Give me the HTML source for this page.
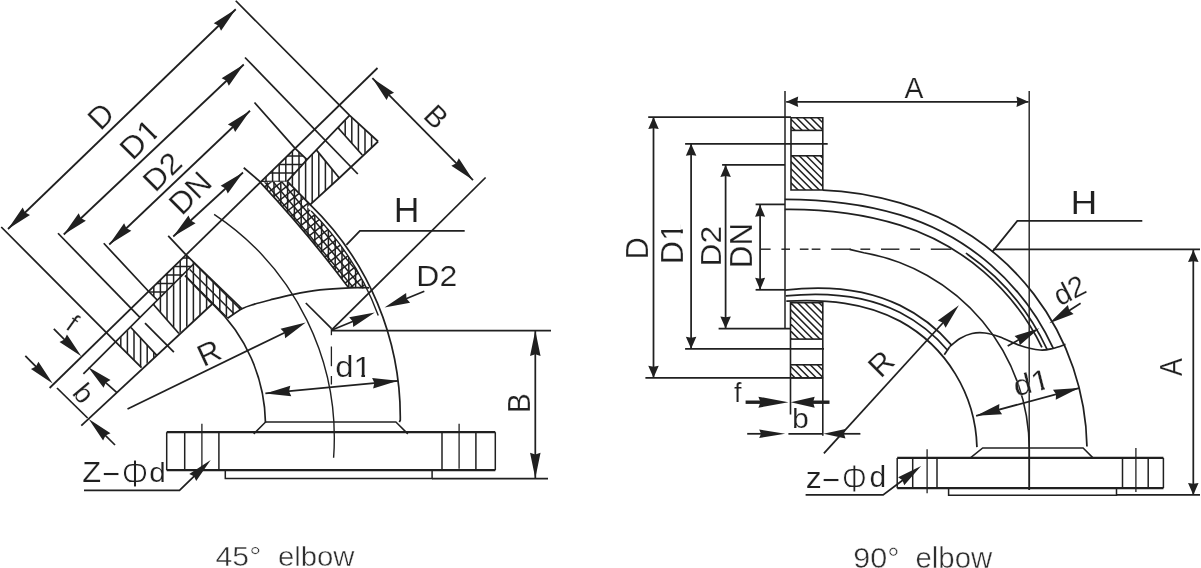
<!DOCTYPE html>
<html><head><meta charset="utf-8"><title>elbow</title>
<style>
html,body{margin:0;padding:0;background:#fff;}
svg{display:block;}
text{font-family:"Liberation Sans",sans-serif;}
svg{filter:grayscale(1);}
</style></head>
<body>
<svg width="1201" height="568" viewBox="0 0 1201 568">
<rect width="1201" height="568" fill="#fff"/>
<g stroke="#231f20" fill="none" stroke-linecap="butt">
<polygon points="8.00,229.00 22.71,207.52 25.07,212.53 30.00,215.07" fill="#231f20" stroke="none"/>
<polygon points="235.75,9.25 221.04,30.73 218.68,25.72 213.75,23.18" fill="#231f20" stroke="none"/>
<line x1="8.00" y1="229.00" x2="235.75" y2="9.25" stroke-width="1.75" />
<polygon points="63.75,234.50 78.68,213.17 80.99,218.22 85.89,220.81" fill="#231f20" stroke="none"/>
<polygon points="243.75,64.50 228.82,85.83 226.51,80.78 221.61,78.19" fill="#231f20" stroke="none"/>
<line x1="63.75" y1="234.50" x2="243.75" y2="64.50" stroke-width="1.75" />
<polygon points="109.25,244.50 124.12,223.13 126.44,228.16 131.35,230.74" fill="#231f20" stroke="none"/>
<polygon points="250.00,110.75 235.13,132.12 232.81,127.09 227.90,124.51" fill="#231f20" stroke="none"/>
<line x1="109.25" y1="244.50" x2="250.00" y2="110.75" stroke-width="1.75" />
<polygon points="173.25,236.50 188.49,215.39 190.72,220.47 195.59,223.13" fill="#231f20" stroke="none"/>
<polygon points="243.00,172.50 227.76,193.61 225.53,188.53 220.66,185.87" fill="#231f20" stroke="none"/>
<line x1="173.25" y1="236.50" x2="243.00" y2="172.50" stroke-width="1.75" />
<path d="M1.25,227.00 L116.10,342.30 L141.50,367.60" stroke-width="1.75" fill="none" />
<path d="M235.75,0.75 L349.60,115.40 L378.10,141.50" stroke-width="1.75" fill="none" />
<line x1="58.00" y1="233.25" x2="140.10" y2="317.60" stroke-width="1.75" />
<line x1="145.00" y1="323.20" x2="173.90" y2="352.10" stroke-width="1.75" />
<line x1="245.00" y1="57.50" x2="357.80" y2="174.00" stroke-width="1.75" />
<path d="M103.75,243.25 L148.70,291.50 L157.20,300.00" stroke-width="1.75" fill="none" />
<path d="M254.50,102.50 L295.10,148.30 L307.00,159.60" stroke-width="1.75" fill="none" />
<line x1="168.20" y1="235.90" x2="185.80" y2="254.60" stroke-width="1.75" />
<line x1="243.75" y1="167.75" x2="260.60" y2="182.10" stroke-width="1.75" />
<line x1="49.60" y1="388.00" x2="377.50" y2="68.00" stroke-width="1.75" />
<line x1="83.40" y1="373.90" x2="194.10" y2="263.50" stroke-width="1.75" />
<path d="M287.30,181.40 L307.00,159.60 L349.60,115.40" stroke-width="1.75" fill="none" />
<line x1="81.30" y1="425.60" x2="212.20" y2="304.00" stroke-width="1.75" />
<path d="M310.20,204.60 L339.30,178.00 L378.10,141.50" stroke-width="1.75" fill="none" />
<line x1="130.90" y1="327.50" x2="157.00" y2="355.60" stroke-width="1.75" />
<line x1="153.00" y1="304.00" x2="178.90" y2="333.50" stroke-width="1.75" />
<line x1="338.20" y1="128.00" x2="362.30" y2="155.00" stroke-width="1.75" />
<line x1="316.30" y1="149.90" x2="339.30" y2="178.00" stroke-width="1.75" />
<clipPath id="hl1"><path d="M116.10,342.30 L130.90,327.50 L157.00,355.60 L141.50,367.60 Z"/></clipPath>
<g clip-path="url(#hl1)" stroke-width="1.5"><line x1="114.20" y1="325.50" x2="114.20" y2="369.60"/><line x1="120.80" y1="325.50" x2="120.80" y2="369.60"/><line x1="127.40" y1="325.50" x2="127.40" y2="369.60"/><line x1="134.00" y1="325.50" x2="134.00" y2="369.60"/><line x1="140.60" y1="325.50" x2="140.60" y2="369.60"/><line x1="147.20" y1="325.50" x2="147.20" y2="369.60"/><line x1="153.80" y1="325.50" x2="153.80" y2="369.60"/><line x1="160.40" y1="325.50" x2="160.40" y2="369.60"/></g>
<clipPath id="hl2"><path d="M153.00,304.00 L185.00,275.60 L212.20,304.00 L178.90,333.50 Z"/></clipPath>
<g clip-path="url(#hl2)" stroke-width="1.5"><line x1="153.80" y1="273.60" x2="153.80" y2="335.50"/><line x1="160.40" y1="273.60" x2="160.40" y2="335.50"/><line x1="167.00" y1="273.60" x2="167.00" y2="335.50"/><line x1="173.60" y1="273.60" x2="173.60" y2="335.50"/><line x1="180.20" y1="273.60" x2="180.20" y2="335.50"/><line x1="186.80" y1="273.60" x2="186.80" y2="335.50"/><line x1="193.40" y1="273.60" x2="193.40" y2="335.50"/><line x1="200.00" y1="273.60" x2="200.00" y2="335.50"/><line x1="206.60" y1="273.60" x2="206.60" y2="335.50"/><line x1="213.20" y1="273.60" x2="213.20" y2="335.50"/></g>
<clipPath id="hl3"><path d="M287.30,181.40 L307.00,159.60 L316.30,149.90 L339.30,178.00 L310.20,204.60 Z"/></clipPath>
<g clip-path="url(#hl3)" stroke-width="1.5"><line x1="285.80" y1="147.90" x2="285.80" y2="206.60"/><line x1="292.40" y1="147.90" x2="292.40" y2="206.60"/><line x1="299.00" y1="147.90" x2="299.00" y2="206.60"/><line x1="305.60" y1="147.90" x2="305.60" y2="206.60"/><line x1="312.20" y1="147.90" x2="312.20" y2="206.60"/><line x1="318.80" y1="147.90" x2="318.80" y2="206.60"/><line x1="325.40" y1="147.90" x2="325.40" y2="206.60"/><line x1="332.00" y1="147.90" x2="332.00" y2="206.60"/><line x1="338.60" y1="147.90" x2="338.60" y2="206.60"/><line x1="345.20" y1="147.90" x2="345.20" y2="206.60"/></g>
<clipPath id="hl4"><path d="M338.20,128.00 L349.60,115.40 L378.10,141.50 L362.30,155.00 Z"/></clipPath>
<g clip-path="url(#hl4)" stroke-width="1.5"><line x1="338.60" y1="113.40" x2="338.60" y2="157.00"/><line x1="345.20" y1="113.40" x2="345.20" y2="157.00"/><line x1="351.80" y1="113.40" x2="351.80" y2="157.00"/><line x1="358.40" y1="113.40" x2="358.40" y2="157.00"/><line x1="365.00" y1="113.40" x2="365.00" y2="157.00"/><line x1="371.60" y1="113.40" x2="371.60" y2="157.00"/><line x1="378.20" y1="113.40" x2="378.20" y2="157.00"/></g>
<clipPath id="cl1"><path d="M148.70,291.50 L185.80,254.60 L242.00,308.80 L227.70,318.30 L212.60,304.40 L185.00,275.60 L157.20,300.00 Z"/></clipPath>
<g clip-path="url(#cl1)" stroke-width="1.5"><line x1="147.20" y1="252.60" x2="147.20" y2="320.30"/><line x1="153.80" y1="252.60" x2="153.80" y2="320.30"/><line x1="160.40" y1="252.60" x2="160.40" y2="320.30"/><line x1="167.00" y1="252.60" x2="167.00" y2="320.30"/><line x1="173.60" y1="252.60" x2="173.60" y2="320.30"/><line x1="180.20" y1="252.60" x2="180.20" y2="320.30"/><line x1="186.80" y1="252.60" x2="186.80" y2="320.30"/><line x1="193.40" y1="252.60" x2="193.40" y2="320.30"/><line x1="200.00" y1="252.60" x2="200.00" y2="320.30"/><line x1="206.60" y1="252.60" x2="206.60" y2="320.30"/><line x1="213.20" y1="252.60" x2="213.20" y2="320.30"/><line x1="219.80" y1="252.60" x2="219.80" y2="320.30"/><line x1="226.40" y1="252.60" x2="226.40" y2="320.30"/><line x1="233.00" y1="252.60" x2="233.00" y2="320.30"/><line x1="239.60" y1="252.60" x2="239.60" y2="320.30"/><line x1="246.20" y1="252.60" x2="246.20" y2="320.30"/></g>
<clipPath id="cl2"><path d="M148.70,291.50 L185.80,254.60 L194.10,263.50 L157.20,300.00 Z"/></clipPath>
<g clip-path="url(#cl2)" stroke-width="1.5"><line x1="146.70" y1="249.50" x2="196.10" y2="249.50"/><line x1="146.70" y1="258.00" x2="196.10" y2="258.00"/><line x1="146.70" y1="266.50" x2="196.10" y2="266.50"/><line x1="146.70" y1="275.00" x2="196.10" y2="275.00"/><line x1="146.70" y1="283.50" x2="196.10" y2="283.50"/><line x1="146.70" y1="292.00" x2="196.10" y2="292.00"/><line x1="146.70" y1="300.50" x2="196.10" y2="300.50"/></g>
<clipPath id="cl3"><path d="M185.80,254.60 L242.00,308.80 L227.70,318.30 L212.60,304.40 L185.00,275.60 L194.10,263.50 Z"/></clipPath>
<g clip-path="url(#cl3)" stroke-width="1.5"><line x1="225.41" y1="208.44" x2="291.51" y2="274.54"/><line x1="220.04" y1="213.81" x2="286.14" y2="279.91"/><line x1="214.66" y1="219.19" x2="280.76" y2="285.29"/><line x1="209.29" y1="224.56" x2="275.39" y2="290.66"/><line x1="203.91" y1="229.94" x2="270.01" y2="296.04"/><line x1="198.54" y1="235.31" x2="264.64" y2="301.41"/><line x1="193.17" y1="240.68" x2="259.27" y2="306.78"/><line x1="187.79" y1="246.06" x2="253.89" y2="312.16"/><line x1="182.42" y1="251.43" x2="248.52" y2="317.53"/><line x1="177.04" y1="256.81" x2="243.14" y2="322.91"/><line x1="171.67" y1="262.18" x2="237.77" y2="328.28"/><line x1="166.30" y1="267.55" x2="232.40" y2="333.65"/><line x1="160.92" y1="272.93" x2="227.02" y2="339.03"/><line x1="155.55" y1="278.30" x2="221.65" y2="344.40"/><line x1="150.17" y1="283.68" x2="216.27" y2="349.78"/><line x1="144.80" y1="289.05" x2="210.90" y2="355.15"/><line x1="139.43" y1="294.42" x2="205.53" y2="360.52"/></g>
<line x1="185.80" y1="254.60" x2="242.00" y2="308.80" stroke-width="1.7" />
<path d="M185.00,275.60 L212.60,304.40" stroke-width="1.7" fill="none" />
<path d="M212.87,304.11 A166.30,166.30 0 0 1 265.47,422.60 L265.6,422" stroke-width="1.7" fill="none" />
<clipPath id="cu1"><path d="M260.60,182.10 L295.10,148.30 L307.00,159.60 L287.30,181.40 Z"/></clipPath>
<g clip-path="url(#cu1)" stroke-width="1.5"><line x1="259.40" y1="146.30" x2="259.40" y2="184.10"/><line x1="266.00" y1="146.30" x2="266.00" y2="184.10"/><line x1="272.60" y1="146.30" x2="272.60" y2="184.10"/><line x1="279.20" y1="146.30" x2="279.20" y2="184.10"/><line x1="285.80" y1="146.30" x2="285.80" y2="184.10"/><line x1="292.40" y1="146.30" x2="292.40" y2="184.10"/><line x1="299.00" y1="146.30" x2="299.00" y2="184.10"/><line x1="305.60" y1="146.30" x2="305.60" y2="184.10"/><line x1="312.20" y1="146.30" x2="312.20" y2="184.10"/></g>
<clipPath id="cu2"><path d="M260.60,182.10 L295.10,148.30 L307.00,159.60 L287.30,181.40 Z"/></clipPath>
<g clip-path="url(#cu2)" stroke-width="1.5"><line x1="258.60" y1="147.50" x2="309.00" y2="147.50"/><line x1="258.60" y1="156.00" x2="309.00" y2="156.00"/><line x1="258.60" y1="164.50" x2="309.00" y2="164.50"/><line x1="258.60" y1="173.00" x2="309.00" y2="173.00"/><line x1="258.60" y1="181.50" x2="309.00" y2="181.50"/><line x1="258.60" y1="190.00" x2="309.00" y2="190.00"/></g>
<clipPath id="cu3"><path d="M260.30,182.40 L265.00,187.44 L269.66,192.51 L274.30,197.60 L278.90,202.71 L283.48,207.85 L288.03,213.01 L292.55,218.20 L297.04,223.41 L301.50,228.64 L305.92,233.90 L310.33,239.18 L314.70,244.49 L319.04,249.82 L323.35,255.17 L327.63,260.55 L331.88,265.95 L336.11,271.38 L340.30,276.83 L344.47,282.30 L348.60,287.80 L366.62,288.38 L364.74,284.62 L362.81,280.90 L360.82,277.20 L358.78,273.53 L356.69,269.89 L354.54,266.28 L352.34,262.70 L350.09,259.15 L347.79,255.64 L345.44,252.16 L343.04,248.71 L340.59,245.30 L338.10,241.93 L335.55,238.59 L332.96,235.29 L330.31,232.02 L327.63,228.80 L324.89,225.61 L322.11,222.46 L319.29,219.36 L316.42,216.29 L313.50,213.26 L310.55,210.28 L307.55,207.34 L310.20,204.60 L287.30,181.40 Z"/></clipPath>
<g clip-path="url(#cu3)" stroke-width="1.5"><line x1="260.40" y1="179.40" x2="260.40" y2="290.38"/><line x1="267.20" y1="179.40" x2="267.20" y2="290.38"/><line x1="274.00" y1="179.40" x2="274.00" y2="290.38"/><line x1="280.80" y1="179.40" x2="280.80" y2="290.38"/><line x1="287.60" y1="179.40" x2="287.60" y2="290.38"/><line x1="294.40" y1="179.40" x2="294.40" y2="290.38"/><line x1="301.20" y1="179.40" x2="301.20" y2="290.38"/><line x1="308.00" y1="179.40" x2="308.00" y2="290.38"/><line x1="314.80" y1="179.40" x2="314.80" y2="290.38"/><line x1="321.60" y1="179.40" x2="321.60" y2="290.38"/><line x1="328.40" y1="179.40" x2="328.40" y2="290.38"/><line x1="335.20" y1="179.40" x2="335.20" y2="290.38"/><line x1="342.00" y1="179.40" x2="342.00" y2="290.38"/><line x1="348.80" y1="179.40" x2="348.80" y2="290.38"/><line x1="355.60" y1="179.40" x2="355.60" y2="290.38"/><line x1="362.40" y1="179.40" x2="362.40" y2="290.38"/><line x1="369.20" y1="179.40" x2="369.20" y2="290.38"/></g>
<clipPath id="cu4"><path d="M260.30,182.40 L265.00,187.44 L269.66,192.51 L274.30,197.60 L278.90,202.71 L283.48,207.85 L288.03,213.01 L292.55,218.20 L297.04,223.41 L301.50,228.64 L305.92,233.90 L310.33,239.18 L314.70,244.49 L319.04,249.82 L323.35,255.17 L327.63,260.55 L331.88,265.95 L336.11,271.38 L340.30,276.83 L344.47,282.30 L348.60,287.80 L366.62,288.38 L364.74,284.62 L362.81,280.90 L360.82,277.20 L358.78,273.53 L356.69,269.89 L354.54,266.28 L352.34,262.70 L350.09,259.15 L347.79,255.64 L345.44,252.16 L343.04,248.71 L340.59,245.30 L338.10,241.93 L335.55,238.59 L332.96,235.29 L330.31,232.02 L327.63,228.80 L324.89,225.61 L322.11,222.46 L319.29,219.36 L316.42,216.29 L313.50,213.26 L310.55,210.28 L307.55,207.34 L310.20,204.60 L287.30,181.40 Z"/></clipPath>
<g clip-path="url(#cu4)" stroke-width="1.5"><line x1="335.69" y1="112.57" x2="437.79" y2="234.24"/><line x1="330.64" y1="116.81" x2="432.73" y2="238.48"/><line x1="325.58" y1="121.05" x2="427.68" y2="242.72"/><line x1="320.53" y1="125.29" x2="422.62" y2="246.96"/><line x1="315.47" y1="129.54" x2="417.56" y2="251.21"/><line x1="310.41" y1="133.78" x2="412.51" y2="255.45"/><line x1="305.36" y1="138.02" x2="407.45" y2="259.69"/><line x1="300.30" y1="142.26" x2="402.40" y2="263.93"/><line x1="295.25" y1="146.51" x2="397.34" y2="268.18"/><line x1="290.19" y1="150.75" x2="392.28" y2="272.42"/><line x1="285.13" y1="154.99" x2="387.23" y2="276.66"/><line x1="280.08" y1="159.23" x2="382.17" y2="280.90"/><line x1="275.02" y1="163.48" x2="377.12" y2="285.15"/><line x1="269.97" y1="167.72" x2="372.06" y2="289.39"/><line x1="264.91" y1="171.96" x2="367.00" y2="293.63"/><line x1="259.86" y1="176.20" x2="361.95" y2="297.87"/><line x1="254.80" y1="180.44" x2="356.89" y2="302.11"/><line x1="249.74" y1="184.69" x2="351.84" y2="306.36"/><line x1="244.69" y1="188.93" x2="346.78" y2="310.60"/><line x1="239.63" y1="193.17" x2="341.73" y2="314.84"/><line x1="234.58" y1="197.41" x2="336.67" y2="319.08"/><line x1="229.52" y1="201.66" x2="331.61" y2="323.33"/><line x1="224.46" y1="205.90" x2="326.56" y2="327.57"/><line x1="219.41" y1="210.14" x2="321.50" y2="331.81"/><line x1="214.35" y1="214.38" x2="316.45" y2="336.05"/><line x1="209.30" y1="218.63" x2="311.39" y2="340.30"/><line x1="204.24" y1="222.87" x2="306.33" y2="344.54"/><line x1="199.18" y1="227.11" x2="301.28" y2="348.78"/><line x1="194.13" y1="231.35" x2="296.22" y2="353.02"/></g>
<clipPath id="cu5"><path d="M260.30,182.40 L265.00,187.44 L269.66,192.51 L274.30,197.60 L278.90,202.71 L283.48,207.85 L288.03,213.01 L292.55,218.20 L297.04,223.41 L301.50,228.64 L305.92,233.90 L310.33,239.18 L314.70,244.49 L319.04,249.82 L323.35,255.17 L327.63,260.55 L331.88,265.95 L336.11,271.38 L340.30,276.83 L344.47,282.30 L348.60,287.80 L366.62,288.38 L364.74,284.62 L362.81,280.90 L360.82,277.20 L358.78,273.53 L356.69,269.89 L354.54,266.28 L352.34,262.70 L350.09,259.15 L347.79,255.64 L345.44,252.16 L343.04,248.71 L340.59,245.30 L338.10,241.93 L335.55,238.59 L332.96,235.29 L330.31,232.02 L327.63,228.80 L324.89,225.61 L322.11,222.46 L319.29,219.36 L316.42,216.29 L313.50,213.26 L310.55,210.28 L307.55,207.34 L310.20,204.60 L287.30,181.40 Z"/></clipPath>
<g clip-path="url(#cu5)" stroke-width="1.5"><line x1="192.84" y1="209.49" x2="318.00" y2="111.70"/><line x1="196.90" y1="214.69" x2="322.06" y2="116.90"/><line x1="200.96" y1="219.89" x2="326.12" y2="122.10"/><line x1="205.03" y1="225.09" x2="330.19" y2="127.30"/><line x1="209.09" y1="230.29" x2="334.25" y2="132.51"/><line x1="213.15" y1="235.49" x2="338.31" y2="137.71"/><line x1="217.22" y1="240.69" x2="342.38" y2="142.91"/><line x1="221.28" y1="245.89" x2="346.44" y2="148.11"/><line x1="225.34" y1="251.09" x2="350.50" y2="153.31"/><line x1="229.41" y1="256.29" x2="354.57" y2="158.51"/><line x1="233.47" y1="261.50" x2="358.63" y2="163.71"/><line x1="237.53" y1="266.70" x2="362.69" y2="168.91"/><line x1="241.60" y1="271.90" x2="366.76" y2="174.11"/><line x1="245.66" y1="277.10" x2="370.82" y2="179.31"/><line x1="249.72" y1="282.30" x2="374.88" y2="184.51"/><line x1="253.79" y1="287.50" x2="378.95" y2="189.71"/><line x1="257.85" y1="292.70" x2="383.01" y2="194.92"/><line x1="261.91" y1="297.90" x2="387.07" y2="200.12"/><line x1="265.98" y1="303.10" x2="391.14" y2="205.32"/><line x1="270.04" y1="308.30" x2="395.20" y2="210.52"/><line x1="274.10" y1="313.50" x2="399.26" y2="215.72"/><line x1="278.17" y1="318.70" x2="403.33" y2="220.92"/><line x1="282.23" y1="323.91" x2="407.39" y2="226.12"/><line x1="286.29" y1="329.11" x2="411.45" y2="231.32"/><line x1="290.36" y1="334.31" x2="415.52" y2="236.52"/><line x1="294.42" y1="339.51" x2="419.58" y2="241.72"/><line x1="298.48" y1="344.71" x2="423.64" y2="246.92"/><line x1="302.55" y1="349.91" x2="427.71" y2="252.13"/><line x1="306.61" y1="355.11" x2="431.77" y2="257.33"/></g>
<path d="M260.3,182.4 Q307.4,232.7 348.6,287.8" stroke-width="1.7" fill="none" />
<path d="M311.18,210.91 A291.80,291.80 0 0 1 378.26,315.39" stroke-width="1.4" fill="none" />
<path d="M287.3,181.4 L310.2,204.6 L310.12,204.68 A295.50,295.50 0 0 1 400.28,420.29 L399.3,422" stroke-width="1.7" fill="none" />
<path d="M227.70,318.30 C230.08,316.72 237.62,311.13 242.00,308.80 C246.38,306.47 249.33,305.77 254.00,304.30 C258.67,302.83 263.60,301.62 270.00,300.00 C276.40,298.38 284.07,296.28 292.40,294.60 C300.73,292.92 310.40,291.03 320.00,289.90 C329.60,288.77 341.83,288.15 350.00,287.80 C358.17,287.45 365.83,287.80 369.00,287.80" stroke-width="1.75" fill="none" />
<path d="M214.12,214.37 A268.90,268.90 0 0 1 333.60,457.78" stroke-width="1.4" fill="none" />
<line x1="331.40" y1="328.20" x2="331.40" y2="335.20" stroke-width="1.3" />
<line x1="331.40" y1="346.50" x2="331.40" y2="366.20" stroke-width="1.3" />
<line x1="331.40" y1="376.00" x2="331.40" y2="384.50" stroke-width="1.3" />
<polygon points="305.80,322.40 285.16,338.26 284.47,332.76 280.57,328.82" fill="#231f20" stroke="none"/>
<line x1="127.50" y1="409.00" x2="294.33" y2="327.97" stroke-width="1.75" />
<polygon points="265.40,393.40 290.29,385.76 289.01,391.16 291.28,396.21" fill="#231f20" stroke="none"/>
<polygon points="398.00,380.80 373.11,388.44 374.39,383.04 372.12,377.99" fill="#231f20" stroke="none"/>
<line x1="265.40" y1="393.40" x2="398.00" y2="380.80" stroke-width="1.75" />
<line x1="331.40" y1="330.60" x2="551.00" y2="330.60" stroke-width="1.75" />
<polygon points="535.30,330.60 540.55,356.10 535.30,354.31 530.05,356.10" fill="#231f20" stroke="none"/>
<polygon points="535.30,478.30 530.05,452.80 535.30,454.59 540.55,452.80" fill="#231f20" stroke="none"/>
<line x1="535.30" y1="330.60" x2="535.30" y2="478.30" stroke-width="1.75" />
<line x1="432.10" y1="478.60" x2="548.00" y2="478.60" stroke-width="1.75" />
<path d="M464.70,230.80 L359.90,230.80 L346.40,244.90" stroke-width="1.75" fill="none" />
<polygon points="384.50,307.50 406.14,293.02 406.47,298.56 410.10,302.75" fill="#231f20" stroke="none"/>
<line x1="424.30" y1="291.30" x2="396.31" y2="302.69" stroke-width="1.75" />
<polygon points="374.80,312.50 353.17,326.99 352.84,321.46 349.21,317.27" fill="#231f20" stroke="none"/>
<line x1="331.40" y1="330.20" x2="362.99" y2="317.31" stroke-width="1.75" />
<line x1="485.60" y1="177.50" x2="331.40" y2="330.20" stroke-width="1.75" />
<line x1="305.80" y1="303.00" x2="331.30" y2="328.40" stroke-width="1.75" />
<polygon points="372.40,78.20 394.05,92.66 389.06,95.08 386.58,100.04" fill="#231f20" stroke="none"/>
<polygon points="473.00,180.10 451.35,165.64 456.34,163.22 458.82,158.26" fill="#231f20" stroke="none"/>
<line x1="372.40" y1="78.20" x2="473.00" y2="180.10" stroke-width="1.75" />
<polygon points="52.70,383.40 30.98,369.04 35.96,366.60 38.42,361.63" fill="#231f20" stroke="none"/>
<line x1="25.30" y1="355.90" x2="43.70" y2="374.37" stroke-width="1.75" />
<polygon points="81.30,356.30 59.53,342.02 64.50,339.56 66.94,334.58" fill="#231f20" stroke="none"/>
<line x1="53.80" y1="328.90" x2="72.27" y2="347.30" stroke-width="1.75" />
<line x1="57.00" y1="388.00" x2="87.60" y2="418.00" stroke-width="1.75" />
<polygon points="88.00,367.00 110.56,379.99 105.74,382.74 103.59,387.85" fill="#231f20" stroke="none"/>
<line x1="117.20" y1="392.90" x2="97.54" y2="375.46" stroke-width="1.75" />
<polygon points="88.70,418.90 110.50,433.14 105.53,435.60 103.10,440.59" fill="#231f20" stroke="none"/>
<line x1="115.00" y1="445.00" x2="97.75" y2="427.88" stroke-width="1.75" />
<line x1="166.70" y1="432.20" x2="495.30" y2="432.20" stroke-width="2.3" />
<line x1="166.70" y1="470.20" x2="495.30" y2="470.20" stroke-width="2.3" />
<line x1="166.70" y1="432.20" x2="166.70" y2="470.20" stroke-width="1.5" />
<line x1="184.70" y1="432.20" x2="184.70" y2="470.20" stroke-width="1.5" />
<line x1="218.90" y1="432.20" x2="218.90" y2="470.20" stroke-width="1.5" />
<line x1="442.00" y1="432.20" x2="442.00" y2="470.20" stroke-width="1.5" />
<line x1="475.90" y1="432.20" x2="475.90" y2="470.20" stroke-width="1.5" />
<line x1="495.30" y1="432.20" x2="495.30" y2="470.20" stroke-width="1.5" />
<line x1="201.90" y1="423.80" x2="201.90" y2="467.80" stroke-width="1.3" />
<line x1="459.10" y1="423.80" x2="459.10" y2="468.70" stroke-width="1.3" />
<path d="M225.30,470.20 L225.30,478.60 L432.10,478.60 L432.10,470.20" stroke-width="1.5" fill="none" />
<path d="M253.70,433.90 L265.60,422.00 L395.90,422.00 L407.80,433.90" stroke-width="1.5" fill="none" />
<path d="M84.00,490.30 L179.50,490.30 L195.00,475.30" stroke-width="1.75" fill="none" />
<polygon points="210.70,460.10 196.21,481.08 193.99,476.27 189.26,473.89" fill="#231f20" stroke="none"/>
<text transform="translate(101.10,115.70) rotate(-45) scale(0.9922,1.0)" x="-11.79" y="10.70" font-size="31.13" fill="#231f20" stroke="#fff" stroke-width="0.2">D</text>
<g transform="translate(138.10,140.80) rotate(-45) scale(1.0508,1.0)" fill="#231f20" stroke="#fff" stroke-width="0.2" font-size="31.13"><clipPath id="ft1"><path d="M2.68,-12.65 L23.36,-12.65 L23.36,7.68 L15.64,7.68 L15.64,11.70 L12.15,11.70 L12.15,7.68 L2.68,7.68 Z"/></clipPath><text x="-17.80" y="10.70">D</text><text x="4.68" y="10.70" clip-path="url(#ft1)">1</text></g>
<text transform="translate(162.50,171.20) rotate(-45) scale(1.0562,1.0)" x="-19.72" y="10.50" font-size="30.11" fill="#231f20" stroke="#fff" stroke-width="0.2">D2</text>
<text transform="translate(190.20,193.00) rotate(-45) scale(1.0090,1.0)" x="-22.49" y="10.70" font-size="31.13" fill="#231f20" stroke="#fff" stroke-width="0.2">DN</text>
<text transform="translate(209.50,352.80) rotate(-25) scale(1.0000,1.0)" x="-11.68" y="10.60" font-size="30.84" fill="#231f20" stroke="#fff" stroke-width="0.2">R</text>
<g transform="translate(350.60,366.45) rotate(0) scale(1.1342,1.0)" fill="#231f20" stroke="#fff" stroke-width="0.2" font-size="28.98"><clipPath id="ft2"><path d="M0.53,-11.37 L19.92,-11.37 L19.92,7.55 L12.73,7.55 L12.73,11.36 L9.49,11.36 L9.49,7.55 L0.53,7.55 Z"/></clipPath><text x="-13.59" y="10.36">d</text><text x="2.53" y="10.36" clip-path="url(#ft2)">1</text></g>
<text transform="translate(519.60,402.80) rotate(-90) scale(0.9695,1.0)" x="-10.80" y="10.65" font-size="30.98" fill="#231f20" stroke="#fff" stroke-width="0.2">B</text>
<text transform="translate(406.55,209.80) rotate(0) scale(1.0227,1.0)" x="-12.61" y="12.00" font-size="34.91" fill="#231f20" stroke="#fff" stroke-width="0.2">H</text>
<text transform="translate(437.30,276.05) rotate(0) scale(1.1099,1.0)" x="-18.88" y="10.05" font-size="28.82" fill="#231f20" stroke="#fff" stroke-width="0.2">D2</text>
<text transform="translate(436.60,117.00) rotate(45) scale(0.9838,1.0)" x="-10.45" y="10.30" font-size="29.96" fill="#231f20" stroke="#fff" stroke-width="0.2">B</text>
<text transform="translate(73.10,322.80) rotate(35) scale(1.0000,1.0)" x="-3.84" y="9.40" font-size="26.02" fill="#231f20" stroke="#fff" stroke-width="0.2">f</text>
<text transform="translate(84.20,393.30) rotate(50) scale(1.0000,1.0)" x="-8.21" y="10.12" font-size="28.30" fill="#231f20" stroke="#fff" stroke-width="0.2">b</text>
<text transform="translate(91.75,471.55) rotate(0) scale(1.0255,1.0)" x="-9.22" y="10.35" font-size="30.11" fill="#231f20" stroke="#fff" stroke-width="0.2">Z</text>
<text transform="translate(111.10,474.50) rotate(0) scale(1.0174,1.0)" x="-8.78" y="9.94" font-size="30.00" fill="#231f20" stroke="#fff" stroke-width="0.2">−</text>
<text transform="translate(134.85,473.80) rotate(0) scale(0.8831,1.0)" x="-15.26" y="13.16" font-size="38.28" fill="#231f20" stroke="#fff" stroke-width="1.1">Φ</text>
<text transform="translate(157.20,471.55) rotate(0) scale(1.0582,1.0)" x="-7.53" y="10.07" font-size="28.16" fill="#231f20" stroke="#fff" stroke-width="0.2">d</text>
<text transform="translate(237.85,555.85) rotate(0) scale(1.0602,1.0)" x="-21.00" y="9.79" font-size="28.48" fill="#2e2e2e" stroke="#fff" stroke-width="0.45">45°</text>
<text transform="translate(316.90,555.70) rotate(0) scale(1.0545,1.0)" x="-36.97" y="9.95" font-size="27.82" fill="#2e2e2e" stroke="#fff" stroke-width="0.45">elbow</text>
<line x1="785.00" y1="91.00" x2="785.00" y2="328.50" stroke-width="1.5" />
<line x1="1029.20" y1="91.00" x2="1029.20" y2="490.00" stroke-width="1.4" />
<polygon points="786.20,101.80 798.20,96.55 797.36,101.80 798.20,107.05" fill="#231f20" stroke="none"/>
<polygon points="1028.50,101.80 1016.50,107.05 1017.34,101.80 1016.50,96.55" fill="#231f20" stroke="none"/>
<line x1="786.20" y1="101.80" x2="1028.50" y2="101.80" stroke-width="1.75" />
<line x1="648.20" y1="117.00" x2="791.00" y2="117.00" stroke-width="1.75" />
<line x1="645.40" y1="377.80" x2="823.20" y2="377.80" stroke-width="1.75" />
<polygon points="653.50,117.00 658.75,129.00 653.50,128.16 648.25,129.00" fill="#231f20" stroke="none"/>
<polygon points="653.50,377.80 648.25,365.80 653.50,366.64 658.75,365.80" fill="#231f20" stroke="none"/>
<line x1="653.50" y1="117.00" x2="653.50" y2="377.80" stroke-width="1.75" />
<line x1="685.10" y1="143.80" x2="827.70" y2="143.80" stroke-width="1.75" />
<line x1="685.10" y1="348.80" x2="824.00" y2="348.80" stroke-width="1.75" />
<polygon points="691.10,143.80 696.35,155.80 691.10,154.96 685.85,155.80" fill="#231f20" stroke="none"/>
<polygon points="691.10,348.80 685.85,336.80 691.10,337.64 696.35,336.80" fill="#231f20" stroke="none"/>
<line x1="691.10" y1="143.80" x2="691.10" y2="348.80" stroke-width="1.75" />
<line x1="722.10" y1="164.90" x2="785.00" y2="164.90" stroke-width="1.75" />
<line x1="718.60" y1="328.50" x2="790.80" y2="328.50" stroke-width="1.75" />
<polygon points="725.60,164.90 730.85,176.90 725.60,176.06 720.35,176.90" fill="#231f20" stroke="none"/>
<polygon points="725.60,328.50 720.35,316.50 725.60,317.34 730.85,316.50" fill="#231f20" stroke="none"/>
<line x1="725.60" y1="164.90" x2="725.60" y2="328.50" stroke-width="1.75" />
<line x1="755.60" y1="204.40" x2="785.00" y2="204.40" stroke-width="1.75" />
<line x1="755.60" y1="289.80" x2="785.00" y2="289.80" stroke-width="1.75" />
<polygon points="760.10,204.80 765.10,216.80 760.10,215.96 755.10,216.80" fill="#231f20" stroke="none"/>
<polygon points="760.10,289.80 755.10,277.80 760.10,278.64 765.10,277.80" fill="#231f20" stroke="none"/>
<line x1="760.10" y1="204.80" x2="760.10" y2="289.80" stroke-width="1.75" />
<path d="M791.00,117.80 L822.80,117.80 L822.80,190.00 L791.00,190.00 Z" stroke-width="1.6" fill="none" />
<line x1="791.00" y1="130.40" x2="822.80" y2="130.40" stroke-width="1.6" />
<line x1="791.00" y1="155.80" x2="822.80" y2="155.80" stroke-width="1.6" />
<clipPath id="hr1"><path d="M791.00,117.80 L822.80,117.80 L822.80,130.40 L791.00,130.40 Z"/></clipPath>
<g clip-path="url(#hr1)" stroke-width="1.5"><line x1="814.74" y1="86.42" x2="844.58" y2="116.26"/><line x1="811.20" y1="89.95" x2="841.05" y2="119.80"/><line x1="807.67" y1="93.49" x2="837.51" y2="123.33"/><line x1="804.13" y1="97.02" x2="833.98" y2="126.87"/><line x1="800.60" y1="100.56" x2="830.44" y2="130.40"/><line x1="797.06" y1="104.10" x2="826.90" y2="133.94"/><line x1="793.52" y1="107.63" x2="823.37" y2="137.48"/><line x1="789.99" y1="111.17" x2="819.83" y2="141.01"/><line x1="786.45" y1="114.70" x2="816.30" y2="144.55"/><line x1="782.92" y1="118.24" x2="812.76" y2="148.08"/><line x1="779.38" y1="121.77" x2="809.23" y2="151.62"/><line x1="775.85" y1="125.31" x2="805.69" y2="155.15"/><line x1="772.31" y1="128.84" x2="802.16" y2="158.69"/></g>
<clipPath id="hr2"><path d="M791.00,155.80 L822.80,155.80 L822.80,190.00 L791.00,190.00 Z"/></clipPath>
<g clip-path="url(#hr2)" stroke-width="1.5"><line x1="813.51" y1="127.61" x2="852.19" y2="166.29"/><line x1="809.97" y1="131.15" x2="848.65" y2="169.83"/><line x1="806.44" y1="134.68" x2="845.12" y2="173.36"/><line x1="802.90" y1="138.22" x2="841.58" y2="176.90"/><line x1="799.37" y1="141.76" x2="838.04" y2="180.43"/><line x1="795.83" y1="145.29" x2="834.51" y2="183.97"/><line x1="792.29" y1="148.83" x2="830.97" y2="187.51"/><line x1="788.76" y1="152.36" x2="827.44" y2="191.04"/><line x1="785.22" y1="155.90" x2="823.90" y2="194.58"/><line x1="781.69" y1="159.43" x2="820.37" y2="198.11"/><line x1="778.15" y1="162.97" x2="816.83" y2="201.65"/><line x1="774.62" y1="166.50" x2="813.30" y2="205.18"/><line x1="771.08" y1="170.04" x2="809.76" y2="208.72"/><line x1="767.55" y1="173.58" x2="806.22" y2="212.25"/><line x1="764.01" y1="177.11" x2="802.69" y2="215.79"/></g>
<path d="M790.50,414.40 L790.50,302.80 L822.80,302.80 L822.80,435.70" stroke-width="1.6" fill="none" />
<line x1="791.00" y1="339.10" x2="822.80" y2="339.10" stroke-width="1.6" />
<line x1="791.00" y1="364.80" x2="822.80" y2="364.80" stroke-width="1.6" />
<line x1="791.00" y1="377.80" x2="822.80" y2="377.80" stroke-width="1.6" />
<clipPath id="hr3"><path d="M791.00,302.80 L822.80,302.80 L822.80,339.10 L791.00,339.10 Z"/></clipPath>
<g clip-path="url(#hr3)" stroke-width="1.5"><line x1="812.74" y1="275.33" x2="852.52" y2="315.11"/><line x1="809.20" y1="278.87" x2="848.98" y2="318.65"/><line x1="805.66" y1="282.40" x2="845.45" y2="322.19"/><line x1="802.13" y1="285.94" x2="841.91" y2="325.72"/><line x1="798.59" y1="289.48" x2="838.37" y2="329.26"/><line x1="795.06" y1="293.01" x2="834.84" y2="332.79"/><line x1="791.52" y1="296.55" x2="831.30" y2="336.33"/><line x1="787.99" y1="300.08" x2="827.77" y2="339.86"/><line x1="784.45" y1="303.62" x2="824.23" y2="343.40"/><line x1="780.92" y1="307.15" x2="820.70" y2="346.93"/><line x1="777.38" y1="310.69" x2="817.16" y2="350.47"/><line x1="773.84" y1="314.22" x2="813.63" y2="354.01"/><line x1="770.31" y1="317.76" x2="810.09" y2="357.54"/><line x1="766.77" y1="321.30" x2="806.55" y2="361.08"/><line x1="763.24" y1="324.83" x2="803.02" y2="364.61"/></g>
<clipPath id="hr4"><path d="M791.00,364.80 L822.80,364.80 L822.80,377.80 L791.00,377.80 Z"/></clipPath>
<g clip-path="url(#hr4)" stroke-width="1.5"><line x1="814.54" y1="333.71" x2="844.49" y2="363.66"/><line x1="811.01" y1="337.24" x2="840.96" y2="367.19"/><line x1="807.47" y1="340.78" x2="837.42" y2="370.73"/><line x1="803.94" y1="344.32" x2="833.88" y2="374.26"/><line x1="800.40" y1="347.85" x2="830.35" y2="377.80"/><line x1="796.86" y1="351.39" x2="826.81" y2="381.34"/><line x1="793.33" y1="354.92" x2="823.28" y2="384.87"/><line x1="789.79" y1="358.46" x2="819.74" y2="388.41"/><line x1="786.26" y1="361.99" x2="816.21" y2="391.94"/><line x1="782.72" y1="365.53" x2="812.67" y2="395.48"/><line x1="779.19" y1="369.06" x2="809.14" y2="399.01"/><line x1="775.65" y1="372.60" x2="805.60" y2="402.55"/><line x1="772.12" y1="376.14" x2="802.06" y2="406.08"/></g>
<path d="M822.80,190.20 C848.26,190.96 875.51,195.95 900.00,202.96 A258.00,258.00 0 0 1 1086.96,446.50" stroke-width="1.75" fill="none" />
<path d="M784.80,199.30 C825.12,199.30 861.39,203.23 900.00,214.84 A246.60,246.60 0 0 1 1053.26,348.44" stroke-width="1.75" fill="none" />
<path d="M965.90,253.14 A240.60,240.60 0 0 1 1047.03,349.25" stroke-width="1.75" fill="none" />
<path d="M784.80,209.30 C825.12,208.90 861.54,213.01 900.00,225.09 A236.80,236.80 0 0 1 1041.91,347.35" stroke-width="1.75" fill="none" />
<path d="M784.80,290.10 C824.83,285.30 863.76,287.72 900.00,305.39 A162.00,162.00 0 0 1 951.59,345.10" stroke-width="1.75" fill="none" />
<path d="M785.80,295.90 C825.57,291.92 864.43,294.30 900.00,312.54 A155.60,155.60 0 0 1 947.81,350.53" stroke-width="1.75" fill="none" />
<path d="M786.30,301.20 C826.05,299.21 865.08,302.05 900.00,321.14 A148.00,148.00 0 0 1 976.95,447.13" stroke-width="1.75" fill="none" />
<line x1="760.80" y1="249.20" x2="770.60" y2="249.20" stroke-width="1.4" />
<line x1="781.40" y1="249.20" x2="790.00" y2="249.20" stroke-width="1.4" />
<line x1="799.80" y1="249.20" x2="808.50" y2="249.20" stroke-width="1.4" />
<line x1="811.70" y1="249.20" x2="820.40" y2="249.20" stroke-width="1.4" />
<line x1="831.20" y1="249.20" x2="850.70" y2="249.20" stroke-width="1.4" />
<line x1="860.40" y1="249.20" x2="870.20" y2="249.20" stroke-width="1.4" />
<line x1="881.00" y1="249.20" x2="899.40" y2="249.20" stroke-width="1.4" />
<line x1="910.20" y1="249.20" x2="920.00" y2="249.20" stroke-width="1.4" />
<line x1="930.80" y1="249.20" x2="951.30" y2="249.20" stroke-width="1.4" />
<path d="M849.6,249.4 L863.78,252.74 A200.3,200.3 0 0 1 1029.30,450.00 L1029.30,490" stroke-width="1.6" fill="none" />
<path d="M949.50,346.90 C951.25,345.50 956.25,340.73 960.00,338.50 C963.75,336.27 967.83,334.42 972.00,333.50 C976.17,332.58 980.33,332.42 985.00,333.00 C989.67,333.58 994.17,334.92 1000.00,337.00 C1005.83,339.08 1013.33,343.33 1020.00,345.50 C1026.67,347.67 1034.50,349.50 1040.00,350.00 C1045.50,350.50 1048.75,349.43 1053.00,348.50 C1057.25,347.57 1063.42,345.08 1065.50,344.40" stroke-width="1.75" fill="none" />
<line x1="949.50" y1="346.90" x2="944.30" y2="354.80" stroke-width="1.75" />
<path d="M1142.30,220.90 L1017.30,220.90 L992.30,251.90" stroke-width="1.75" fill="none" />
<line x1="993.30" y1="249.40" x2="1200.00" y2="249.40" stroke-width="1.75" />
<polygon points="1193.30,250.00 1198.55,262.00 1193.30,261.16 1188.05,262.00" fill="#231f20" stroke="none"/>
<polygon points="1193.30,494.90 1188.05,482.90 1193.30,483.74 1198.55,482.90" fill="#231f20" stroke="none"/>
<line x1="1193.30" y1="250.00" x2="1193.30" y2="494.90" stroke-width="1.75" />
<line x1="1116.50" y1="494.90" x2="1200.00" y2="494.90" stroke-width="1.75" />
<polygon points="1049.30,323.30 1067.92,305.10 1069.25,310.49 1073.59,313.94" fill="#231f20" stroke="none"/>
<line x1="1080.60" y1="303.20" x2="1060.03" y2="316.41" stroke-width="1.75" />
<polygon points="1039.40,328.20 1019.69,345.22 1018.69,339.76 1014.58,336.05" fill="#231f20" stroke="none"/>
<line x1="1007.70" y1="345.90" x2="1028.27" y2="334.42" stroke-width="1.75" />
<polygon points="976.10,415.80 999.36,404.10 999.00,409.64 1002.09,414.24" fill="#231f20" stroke="none"/>
<polygon points="1079.00,388.10 1055.74,399.80 1056.10,394.26 1053.01,389.66" fill="#231f20" stroke="none"/>
<line x1="976.10" y1="415.80" x2="1079.00" y2="388.10" stroke-width="1.75" />
<polygon points="958.90,305.30 945.60,327.68 942.92,322.83 937.84,320.61" fill="#231f20" stroke="none"/>
<line x1="823.90" y1="453.40" x2="950.31" y2="314.72" stroke-width="1.75" />
<polygon points="788.40,402.20 758.40,407.70 760.50,402.20 758.40,396.70" fill="#231f20" stroke="none"/>
<line x1="745.60" y1="402.20" x2="773.40" y2="402.20" stroke-width="3.4" />
<polygon points="790.70,402.20 814.70,396.70 813.02,402.20 814.70,407.70" fill="#231f20" stroke="none"/>
<line x1="829.50" y1="402.20" x2="802.70" y2="402.20" stroke-width="3.4" />
<polygon points="785.20,433.80 759.20,438.05 761.02,433.80 759.20,429.55" fill="#231f20" stroke="none"/>
<line x1="747.20" y1="433.80" x2="772.20" y2="433.80" stroke-width="1.75" />
<line x1="788.40" y1="433.80" x2="822.90" y2="433.80" stroke-width="1.75" />
<polygon points="823.50,433.80 845.50,429.05 843.96,433.80 845.50,438.55" fill="#231f20" stroke="none"/>
<line x1="860.40" y1="433.80" x2="834.50" y2="433.80" stroke-width="1.75" />
<path d="M805.60,494.90 L883.10,494.90 L905.00,478.50" stroke-width="1.75" fill="none" />
<polygon points="921.10,466.10 904.20,485.19 902.57,480.14 898.16,477.22" fill="#231f20" stroke="none"/>
<line x1="897.20" y1="457.90" x2="1163.40" y2="457.90" stroke-width="2.3" />
<line x1="897.20" y1="488.20" x2="1163.40" y2="488.20" stroke-width="2.3" />
<line x1="897.20" y1="457.90" x2="897.20" y2="488.20" stroke-width="1.5" />
<line x1="912.70" y1="457.90" x2="912.70" y2="488.20" stroke-width="1.5" />
<line x1="937.00" y1="457.90" x2="937.00" y2="488.20" stroke-width="1.5" />
<line x1="1122.50" y1="457.90" x2="1122.50" y2="488.20" stroke-width="1.5" />
<line x1="1148.20" y1="457.90" x2="1148.20" y2="488.20" stroke-width="1.5" />
<line x1="1163.40" y1="457.90" x2="1163.40" y2="488.20" stroke-width="1.5" />
<line x1="927.10" y1="449.20" x2="927.10" y2="493.20" stroke-width="1.3" />
<line x1="1135.90" y1="448.00" x2="1135.90" y2="492.00" stroke-width="1.3" />
<path d="M948.60,488.20 L948.60,495.20 L1116.50,495.20 L1116.50,488.20" stroke-width="1.5" fill="none" />
<path d="M970.40,457.90 L982.70,448.00 L1083.10,448.00 L1093.00,457.90" stroke-width="1.5" fill="none" />
<text transform="translate(637.50,247.75) rotate(-90) scale(0.9922,1.0)" x="-11.79" y="10.70" font-size="31.13" fill="#231f20" stroke="#fff" stroke-width="0.2">D</text>
<g transform="translate(672.50,245.90) rotate(-90) scale(1.0508,1.0)" fill="#231f20" stroke="#fff" stroke-width="0.2" font-size="31.13"><clipPath id="ft3"><path d="M2.68,-12.65 L23.36,-12.65 L23.36,7.68 L15.64,7.68 L15.64,11.70 L12.15,11.70 L12.15,7.68 L2.68,7.68 Z"/></clipPath><text x="-17.80" y="10.70">D</text><text x="4.68" y="10.70" clip-path="url(#ft3)">1</text></g>
<text transform="translate(710.20,245.60) rotate(-90) scale(1.0562,1.0)" x="-19.72" y="10.50" font-size="30.11" fill="#231f20" stroke="#fff" stroke-width="0.2">D2</text>
<text transform="translate(741.20,245.60) rotate(-90) scale(1.0043,1.0)" x="-22.59" y="10.75" font-size="31.27" fill="#231f20" stroke="#fff" stroke-width="0.2">DN</text>
<text transform="translate(913.90,87.10) rotate(0) scale(0.9373,1.0)" x="-10.10" y="10.40" font-size="30.25" fill="#231f20" stroke="#fff" stroke-width="0.2">A</text>
<text transform="translate(1083.95,203.05) rotate(0) scale(1.1259,1.0)" x="-11.93" y="11.35" font-size="33.02" fill="#231f20" stroke="#fff" stroke-width="0.2">H</text>
<text transform="translate(1171.20,367.20) rotate(-90) scale(0.8610,1.0)" x="-10.34" y="10.65" font-size="30.98" fill="#231f20" stroke="#fff" stroke-width="0.2">A</text>
<text transform="translate(1069.20,290.10) rotate(-27) scale(1.0000,1.0)" x="-15.98" y="10.36" font-size="28.98" fill="#231f20" stroke="#fff" stroke-width="0.2">d2</text>
<g transform="translate(1028.40,382.80) rotate(-14) scale(1.1342,1.0)" fill="#231f20" stroke="#fff" stroke-width="0.2" font-size="28.98"><clipPath id="ft4"><path d="M0.53,-11.37 L19.92,-11.37 L19.92,7.55 L12.73,7.55 L12.73,11.36 L9.49,11.36 L9.49,7.55 L0.53,7.55 Z"/></clipPath><text x="-13.59" y="10.36">d</text><text x="2.53" y="10.36" clip-path="url(#ft4)">1</text></g>
<text transform="translate(881.50,363.20) rotate(-45) scale(1.0000,1.0)" x="-11.68" y="10.60" font-size="30.84" fill="#231f20" stroke="#fff" stroke-width="0.2">R</text>
<text transform="translate(738.00,391.65) rotate(0) scale(0.9564,1.0)" x="-4.19" y="10.25" font-size="28.37" fill="#231f20" stroke="#fff" stroke-width="0.2">f</text>
<text transform="translate(800.70,418.15) rotate(0) scale(1.0849,1.0)" x="-8.09" y="9.97" font-size="27.89" fill="#231f20" stroke="#fff" stroke-width="0.2">b</text>
<text transform="translate(813.55,479.95) rotate(0) scale(1.0888,1.0)" x="-7.20" y="7.75" font-size="29.38" fill="#231f20" stroke="#fff" stroke-width="0.2">z</text>
<text transform="translate(831.10,480.10) rotate(0) scale(1.0314,1.0)" x="-8.78" y="9.94" font-size="30.00" fill="#231f20" stroke="#fff" stroke-width="0.2">−</text>
<text transform="translate(854.45,479.40) rotate(0) scale(0.8337,1.0)" x="-15.15" y="13.06" font-size="37.99" fill="#231f20" stroke="#fff" stroke-width="1.1">Φ</text>
<text transform="translate(877.45,477.15) rotate(0) scale(1.0457,1.0)" x="-7.68" y="10.26" font-size="28.71" fill="#231f20" stroke="#fff" stroke-width="0.2">d</text>
<text transform="translate(876.25,557.75) rotate(0) scale(1.0132,1.0)" x="-22.63" y="10.37" font-size="30.18" fill="#2e2e2e" stroke="#fff" stroke-width="0.45">90°</text>
<text transform="translate(954.50,557.60) rotate(0) scale(0.9983,1.0)" x="-39.14" y="10.53" font-size="29.46" fill="#2e2e2e" stroke="#fff" stroke-width="0.45">elbow</text>
</g>
</svg>
</body></html>
